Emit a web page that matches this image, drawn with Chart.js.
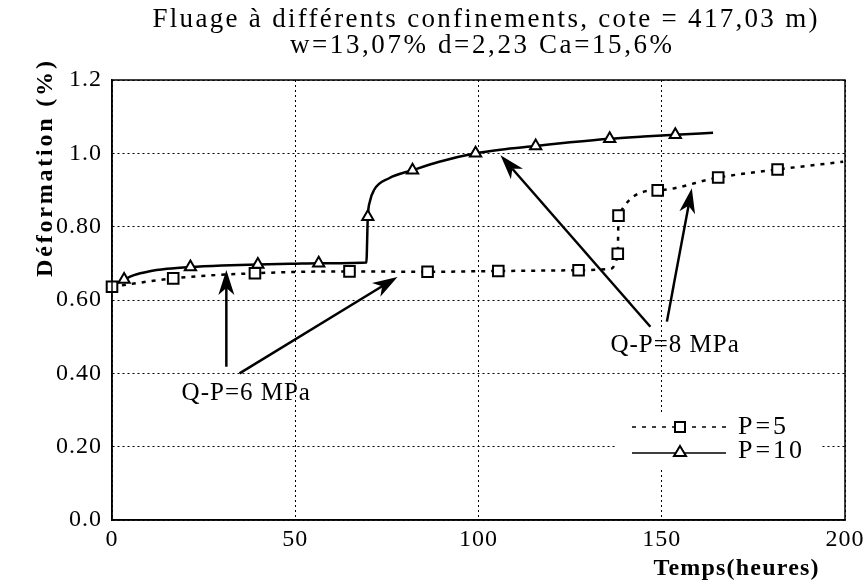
<!DOCTYPE html>
<html>
<head>
<meta charset="utf-8">
<title>Fluage</title>
<script src="https://cdn.jsdelivr.net/npm/chart.js@4.4.1/dist/chart.umd.min.js"></script>
<style>
	body { margin: 0; background: #fff; }
	#wrap { width: 868px; height: 583px; }
</style>
</head>
<body>
<div id="wrap"><canvas id="creepChart" width="868" height="583"></canvas></div>
<script>
// curve P=5 (dotted)
var p5CurveX = [0, 16.7, 39, 64.8, 86.1, 105.4, 127.3, 135.5, 138, 138.2, 148.9, 165.4, 181.6, 199.5];
var p5CurveY = [0.636, 0.659, 0.673, 0.678, 0.677, 0.679, 0.681, 0.684, 0.726, 0.83, 0.899, 0.934, 0.956, 0.977];
// square markers P=5
var p5MarkX = [0, 16.7, 39, 64.8, 86.1, 105.4, 127.3, 138, 138.2, 148.9, 165.4, 181.6];
var p5MarkY = [0.636, 0.659, 0.673, 0.678, 0.677, 0.679, 0.681, 0.726, 0.83, 0.899, 0.934, 0.956];

// curve P=10 (solid)
var p10CurveX = [0.5, 3.3, 6, 10, 15, 21.4, 30, 39.8, 50, 56.4, 69.4, 69.8, 70.4, 71.5, 75.6, 82, 89.3, 99.2, 106, 115.6, 125, 135.8, 145, 153.7, 164];
var p10CurveY = [0.642, 0.656, 0.668, 0.678, 0.685, 0.69, 0.694, 0.697, 0.699, 0.70, 0.702, 0.827, 0.87, 0.9, 0.932, 0.954, 0.977, 1.0, 1.01, 1.02, 1.03, 1.04, 1.046, 1.051, 1.056];
// triangle markers P=10
var p10MarkX = [3.3, 21.4, 39.8, 56.4, 69.8, 82, 99.2, 115.6, 135.8, 153.7];
var p10MarkY = [0.656, 0.69, 0.697, 0.70, 0.827, 0.954, 1.0, 1.02, 1.04, 1.051];

var xTickLabels = ["0", "50", "100", "150", "200"];
var yTickLabels = ["0.0", "0.20", "0.40", "0.60", "0.80", "1.0", "1.2"];
var seriesNames = ["P=5", "P=10"];

var titleLines = ["Fluage à différents confinements, cote = 417,03 m)", "w=13,07% d=2,23 Ca=15,6%"];
var xTitle = "Temps(heures)";
var yTitle = "Déformation (%)";

// annotations: [x tail, y tail, x tip, y tip] in data units
var arrows = [
	[31.2, 0.418, 31.2, 0.682],
	[34.8, 0.40, 77.9, 0.663],
	[146.9, 0.527, 106, 0.995],
	[151.4, 0.541, 158.2, 0.905]
];
var notes = [
	["Q-P=6 MPa", 36.5, 0.346],
	["Q-P=8 MPa", 153.5, 0.477]
];

function pts(xs, ys) {
	return xs.map(function(x, i){ return {x: x, y: ys[i]}; });
}

function spacedText(ctx, txt, x, y, font, spacing, align, base) {
	ctx.save();
	ctx.font = font;
	ctx.letterSpacing = spacing + "px";
	ctx.textAlign = align || "center";
	ctx.textBaseline = base || "middle";
	ctx.fillStyle = "#000";
	// trailing spacing shifts centred text, compensate
	var dx = (align === "left") ? 0 : (align === "right" ? spacing : spacing / 2);
	ctx.fillText(txt, x + dx, y);
	ctx.restore();
}

function drawArrow(ctx, x1, y1, x2, y2) {
	var ang = Math.atan2(y2 - y1, x2 - x1);
	var L = 25, W = 8, N = 7;
	ctx.save();
	ctx.strokeStyle = "#000";
	ctx.fillStyle = "#000";
	ctx.lineWidth = 2.5;
	ctx.beginPath();
	ctx.moveTo(x1, y1);
	ctx.lineTo(x2 - Math.cos(ang) * (L - N), y2 - Math.sin(ang) * (L - N));
	ctx.stroke();
	ctx.translate(x2, y2);
	ctx.rotate(ang);
	ctx.beginPath();
	ctx.moveTo(0, 0);
	ctx.lineTo(-L, -W);
	ctx.lineTo(-(L - N), 0);
	ctx.lineTo(-L, W);
	ctx.closePath();
	ctx.fill();
	ctx.restore();
}

var decorations = {
	id: "decorations",
	beforeDraw: function(chart) {
		chart.ctx.letterSpacing = "1px";
	},
	afterDatasetsDraw: function(chart) {
		var ctx = chart.ctx;
		var a = chart.chartArea;
		var xs = chart.scales.x, ys = chart.scales.y;

		// full frame
		ctx.save();
		ctx.strokeStyle = "#000";
		ctx.lineWidth = 1.5;
		ctx.setLineDash([]);
		ctx.strokeRect(a.left, a.top, a.right - a.left, a.bottom - a.top);
		ctx.restore();

		arrows.forEach(function(r){
			drawArrow(ctx, xs.getPixelForValue(r[0]), ys.getPixelForValue(r[1]),
				xs.getPixelForValue(r[2]), ys.getPixelForValue(r[3]));
		});
		notes.forEach(function(n){
			spacedText(ctx, n[0], xs.getPixelForValue(n[1]), ys.getPixelForValue(n[2]),
				"25px 'Liberation Serif'", 1, "center", "middle");
		});

		// legend
		ctx.save();
		ctx.fillStyle = "#fff";
		ctx.fillRect(615, 414, 207, 54);
		ctx.strokeStyle = "#000";
		ctx.lineWidth = 1.5;
		ctx.setLineDash([4, 6]);
		ctx.beginPath(); ctx.moveTo(632, 427); ctx.lineTo(726, 427); ctx.stroke();
		ctx.setLineDash([]);
		ctx.beginPath(); ctx.moveTo(632, 453); ctx.lineTo(726, 453); ctx.stroke();
		ctx.fillStyle = "#fff";
		ctx.lineWidth = 2;
		ctx.fillRect(675, 422, 10, 10);
		ctx.strokeRect(675, 422, 10, 10);
		ctx.beginPath();
		ctx.moveTo(680, 446); ctx.lineTo(686, 456); ctx.lineTo(674, 456); ctx.closePath();
		ctx.fill(); ctx.stroke();
		ctx.restore();
		spacedText(ctx, seriesNames[0], 738, 427, "26px 'Liberation Serif'", 3, "left", "middle");
		spacedText(ctx, seriesNames[1], 738, 451, "26px 'Liberation Serif'", 3, "left", "middle");
	},
	afterDraw: function(chart) {
		var ctx = chart.ctx;
		spacedText(ctx, titleLines[0], 485, 20, "27px 'Liberation Serif'", 2.3, "center", "middle");
		spacedText(ctx, titleLines[1], 481, 46, "27px 'Liberation Serif'", 2.6, "center", "middle");
		spacedText(ctx, xTitle, 736, 569, "bold 24px 'Liberation Serif'", 1.2, "center", "middle");
		ctx.save();
		ctx.translate(52, 169);
		ctx.rotate(-Math.PI / 2);
		spacedText(ctx, yTitle, 0, 0, "bold 24px 'Liberation Serif'", 2.8, "center", "alphabetic");
		ctx.restore();
	}
};

var tickFont = { family: "'Liberation Serif'", size: 24 };

new Chart("creepChart", {
	type: "scatter",
	data: {
		datasets: [
			{
				label: seriesNames[0] + " pts",
				data: pts(p5MarkX, p5MarkY),
				showLine: false,
				pointStyle: "rect",
				pointRadius: 7.5,
				pointBorderWidth: 2,
				pointBackgroundColor: "#fff",
				pointBorderColor: "#000",
				clip: false
			},
			{
				label: seriesNames[1] + " pts",
				data: pts(p10MarkX, p10MarkY),
				showLine: false,
				pointStyle: "triangle",
				pointRadius: 6.5,
				pointBorderWidth: 2,
				pointBackgroundColor: "#fff",
				pointBorderColor: "#000",
				clip: false
			},
			{
				label: seriesNames[0],
				data: pts(p5CurveX, p5CurveY),
				showLine: true,
				pointRadius: 0,
				borderColor: "#000",
				borderWidth: 2.5,
				borderDash: [4, 6],
				cubicInterpolationMode: "monotone",
				fill: false,
				clip: false
			},
			{
				label: seriesNames[1],
				data: pts(p10CurveX, p10CurveY),
				showLine: true,
				pointRadius: 0,
				borderColor: "#000",
				borderWidth: 2.5,
				cubicInterpolationMode: "monotone",
				fill: false,
				clip: false
			}
		]
	},
	options: {
		responsive: false,
		animation: false,
		events: [],
		layout: { padding: { top: 80, right: 21, left: 0, bottom: 0 } },
		plugins: {
			legend: { display: false },
			title: { display: false },
			tooltip: { enabled: false }
		},
		scales: {
			x: {
				type: "linear",
				min: 0,
				max: 200,
				afterFit: function(s){ s.height = 63; },
				ticks: {
					stepSize: 50,
					color: "#000",
					font: tickFont,
					padding: 5,
					maxRotation: 0,
					callback: function(v){ return xTickLabels[Math.round(v / 50)]; }
				},
				grid: { color: "#000", lineWidth: 1, drawTicks: false },
				border: { display: true, color: "#000", width: 1.5, dash: [2, 3] }
			},
			y: {
				type: "linear",
				min: 0,
				max: 1.2,
				afterFit: function(s){ s.width = 112; },
				ticks: {
					stepSize: 0.2,
					color: "#000",
					font: tickFont,
					padding: 10,
					callback: function(v){ return yTickLabels[Math.round(v / 0.2)]; }
				},
				grid: { color: "#000", lineWidth: 1, drawTicks: false },
				border: { display: true, color: "#000", width: 1.5, dash: [2, 3] }
			}
		}
	},
	plugins: [decorations]
});
</script>
</body>
</html>
